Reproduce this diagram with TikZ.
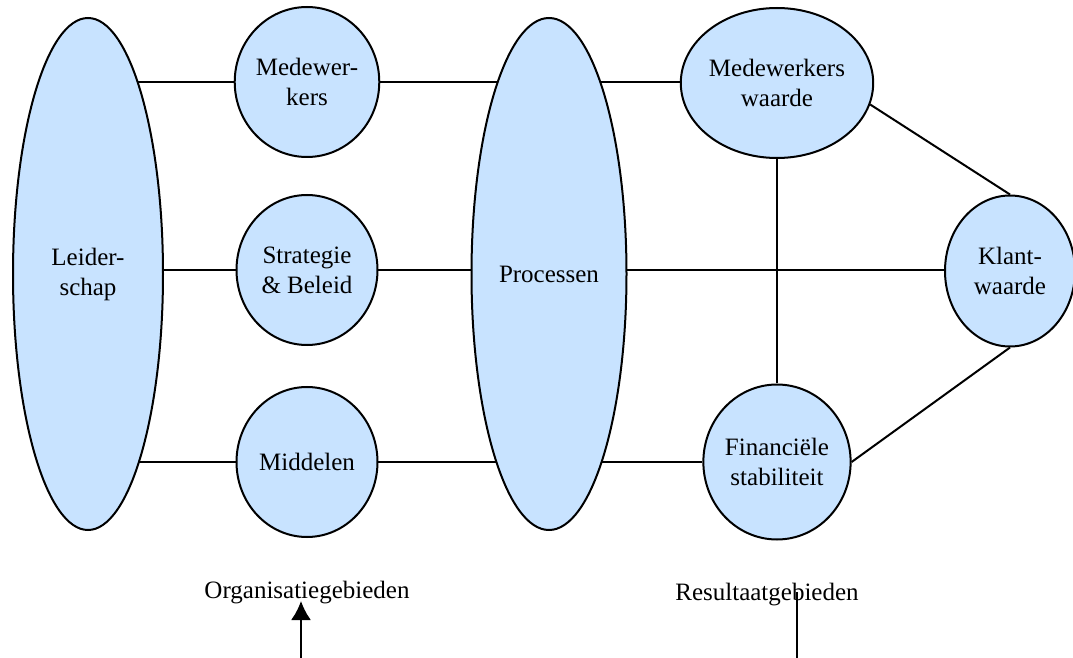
\documentclass[tikz,border=0pt]{standalone}
\usepackage{fontspec}
\setmainfont{Liberation Serif}
\usetikzlibrary{positioning, arrows.meta, shapes.geometric, backgrounds}
\definecolor{cellblue}{HTML}{C8E3FF}

\begin{document}
\begin{tikzpicture}[
  x=0.5pt, y=-0.5pt,
  font=\fontsize{12.5}{15}\selectfont,
  blob/.style={ellipse, draw, fill=cellblue, line width=1pt, inner sep=0pt,
    align=center},
  link/.style={line width=1pt},
  caption/.style={inner sep=0pt},
]
  \useasboundingbox (0,0) rectangle (1073,658);

  % organisatiegebieden
  \node[blob, minimum width=75pt, minimum height=256pt] (L) at (88,274) {Leider-\\schap};
  \node[blob, minimum width=70.5pt, minimum height=75pt] (M) at (307,82) {Medewer-\\kers};
  \node[blob, minimum width=70.5pt, minimum height=75pt] (S) at (307,270) {Strategie\\\& Beleid};
  \node[blob, minimum width=70.5pt, minimum height=75pt] (R) at (307,462) {Middelen};
  \node[blob, minimum width=77.5pt, minimum height=256pt] (P) at (549,274) {Processen};

  % resultaatgebieden
  \node[blob, minimum width=92pt, minimum height=75pt] (MW) at (777,83) {Medewerkers\\waarde};
  \node[blob, minimum width=70pt, minimum height=77.5pt] (F) at (777,462) {Financiële\\stabiliteit};
  \node[blob, minimum width=65pt, minimum height=75.5pt] (K) at (1010,271) {Klant-\\waarde};

  \begin{scope}[on background layer]
    \draw[link] (L.center |- M) -- (MW.center |- M);
    \draw[link] (L.center |- S) -- (K.center |- S);
    \draw[link] (L.center |- R) -- (F);
    \draw[link] (MW) -- (F);
    \draw[link] (MW.-13) -- (K.north);
    \draw[link] (F.east) -- (K.south);
  \end{scope}

  % onderschriften
  \node[caption] (org) at (307,593) {Organisatiegebieden};
  \node[caption] (res) at (767,595) {Resultaatgebieden};
  \coordinate (orgfoot) at (301,658);
  \coordinate (orgtip) at (301,601);
  \coordinate (resfoot) at (797,658);
  \coordinate (restop) at (797,592);
  \draw[link, -{Latex[length=9.5pt, width=10pt]}] (orgfoot) -- (orgtip);
  \draw[link] (resfoot) -- (restop);
\end{tikzpicture}
\end{document}
